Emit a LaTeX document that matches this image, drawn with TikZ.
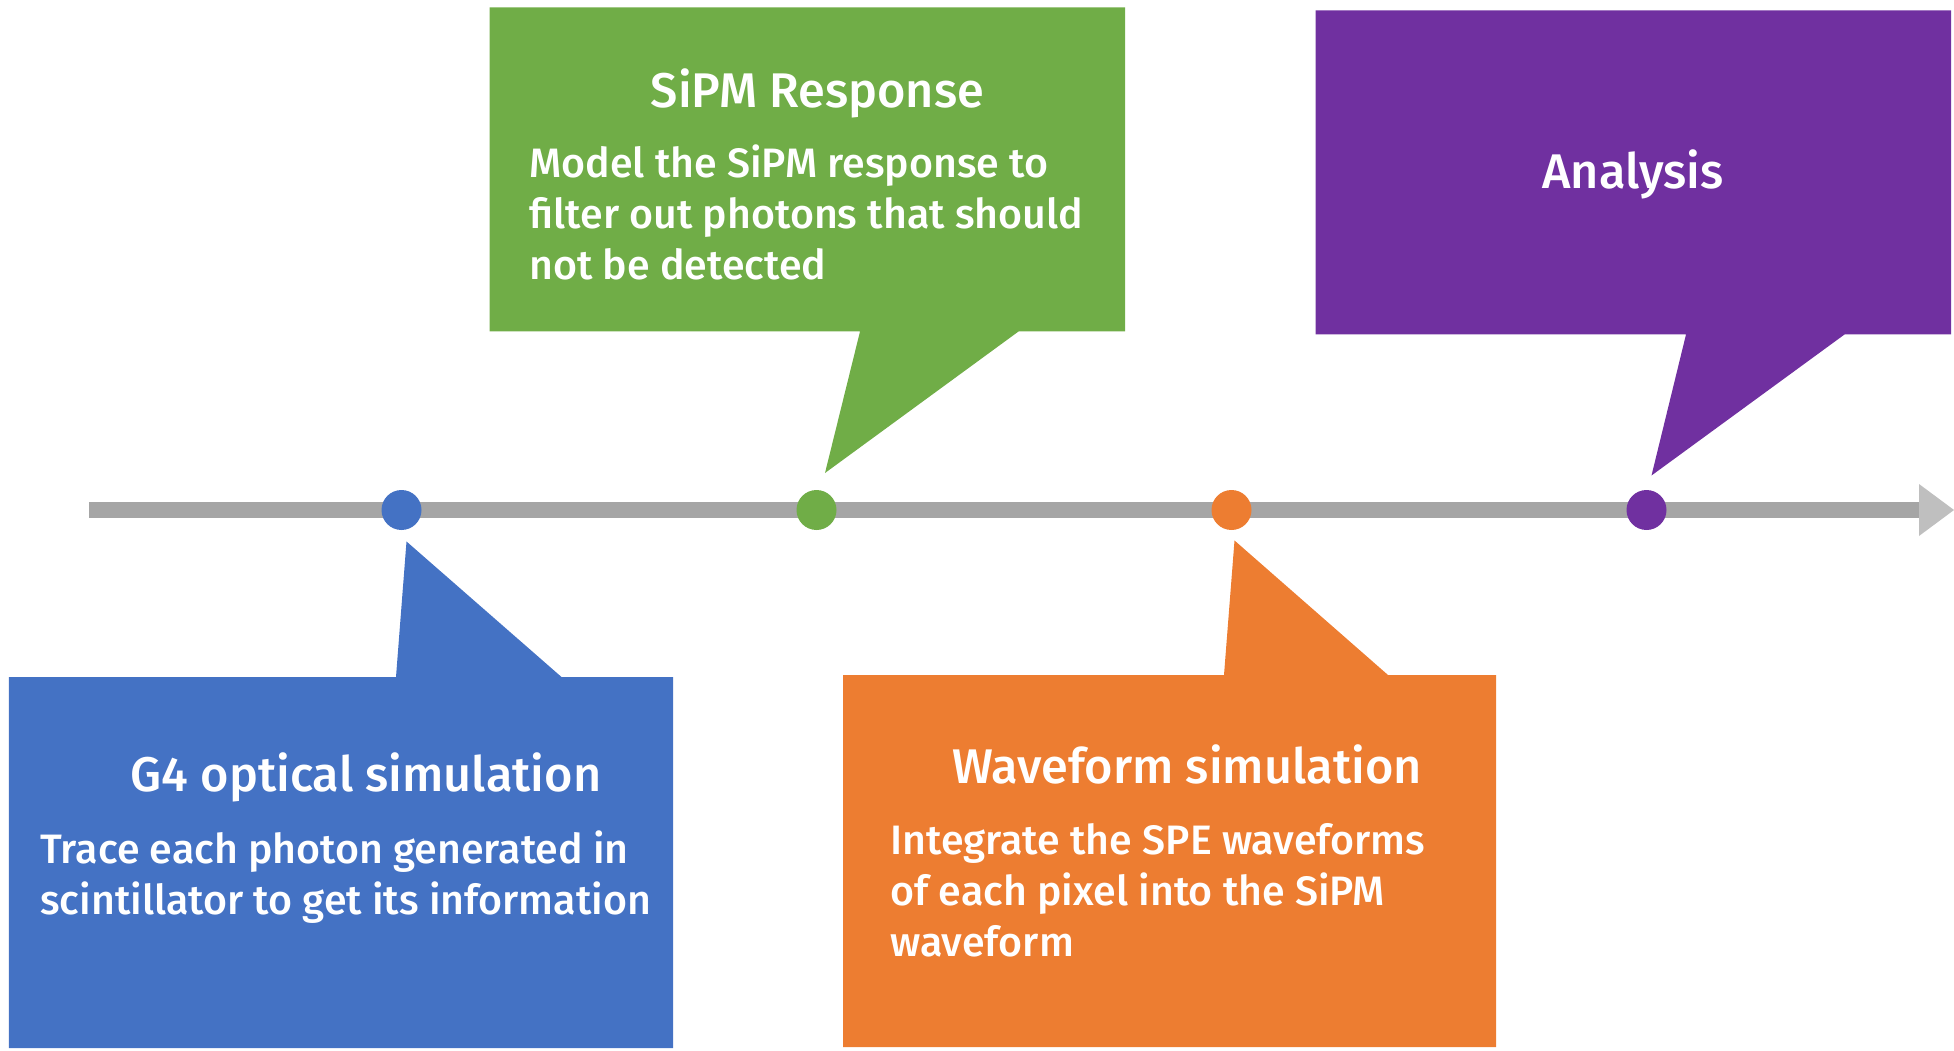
\documentclass[tikz,border=0pt]{standalone}
\usepackage{fontspec}
\setmainfont{Fira Sans}[UprightFont={* Medium}]
\usetikzlibrary{arrows.meta,calc,positioning}
\definecolor{gfblue}{HTML}{4472C4}
\definecolor{sipmgreen}{HTML}{70AD47}
\definecolor{wforange}{HTML}{ED7D31}
\definecolor{anapurple}{HTML}{7030A0}
\definecolor{axis}{HTML}{A5A5A5}
\definecolor{axishead}{HTML}{BFBFBF}
\tikzset{
  ttl/.style={text=white,font=\fontsize{27.7}{32}\selectfont,inner sep=0pt,anchor=base},
  desc/.style={text=white,font=\fontsize{23.4}{29}\selectfont,inner sep=0pt,anchor=base west,align=left},
  dot/.style={circle,inner sep=0pt,minimum size=0.8cm},
}
\begin{document}
\begin{tikzpicture}
\useasboundingbox (0,0) rectangle (39.08,21);
% timeline
\coordinate (t0) at (1.776,10.8);
\coordinate (t1) at (38.38,10.8);
\draw[axis,line width=0.32cm] (t0) -- (t1);
\fill[axishead] ($(t1)+(0,0.52)$) -- (39.08,10.8) -- ($(t1)+(0,-0.52)$) -- cycle;

% callouts
\fill[gfblue] (0.18,7.46) -- (7.92,7.46) -- (8.13,10.17) -- (11.23,7.46) -- (13.46,7.46) -- (13.46,0.04) -- (0.18,0.04) -- cycle;
\fill[sipmgreen] (9.79,20.85) -- (22.5,20.85) -- (22.5,14.37) -- (20.37,14.37) -- (16.5,11.54) -- (17.2,14.37) -- (9.79,14.37) -- cycle;
\fill[wforange] (16.86,7.5) -- (24.48,7.5) -- (24.69,10.19) -- (27.76,7.5) -- (29.92,7.5) -- (29.92,0.06) -- (16.86,0.06) -- cycle;
\fill[anapurple] (26.31,20.79) -- (39.02,20.79) -- (39.02,14.31) -- (36.89,14.31) -- (33.03,11.49) -- (33.72,14.31) -- (26.31,14.31) -- cycle;

% milestones
\foreach \c [count=\i from 0] in {gfblue,sipmgreen,wforange,anapurple}
  \node[dot,fill=\c] (m\i) at (8.03+8.3*\i,10.8) {};

% texts (body nodes sit on the baseline of their last line)
\node[ttl] (g4t) at (7.32,5.17) {G4 optical simulation};
\node[desc] (g4d) at (0.80,2.72) {Trace each photon generated in\\scintillator to get its information};
\node[ttl] (spt) at (16.35,18.85) {SiPM Response};
\node[desc] (spd) at (10.58,15.41) {Model the SiPM response to\\filter out photons that should\\not be detected};
\node[ttl] (wft) at (23.74,5.33) {Waveform simulation};
\node[desc] (wfd) at (17.80,1.87) {Integrate the SPE waveforms\\of each pixel into the SiPM\\waveform};
\node[ttl] (ant) at (32.66,17.23) {Analysis};
\end{tikzpicture}
\end{document}
